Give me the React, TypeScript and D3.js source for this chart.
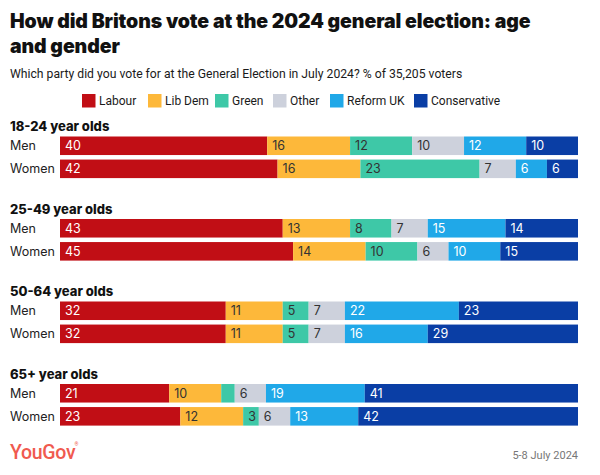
import React from "react";
import * as d3 from "d3";

const parties = ["Labour", "Lib Dem", "Green", "Other", "Reform UK", "Conservative"];
const partyColors = ["#c10e15", "#fdb83a", "#3ec8a7", "#cdd1dc", "#20a8e8", "#0a3ea5"];
const labelDark = [false, true, true, true, false, false];
const ageGroups = ["18-24 year olds", "25-49 year olds", "50-64 year olds", "65+ year olds"];
const genders = ["Men", "Women"];

// rows in order: 18-24 Men, 18-24 Women, 25-49 Men, ..., 65+ Women
const labour = [40, 42, 43, 45, 32, 32, 21, 23];
const libDem = [16, 16, 13, 14, 11, 11, 10, 12];
const green = [12, 23, 8, 10, 5, 5, 2.6, 3];
const other = [10, 7, 7, 6, 7, 7, 6, 6];
const reform = [12, 6, 15, 10, 22, 16, 19, 13];
const conservative = [10, 6, 14, 15, 23, 29, 41, 42];

const title1 = "How did Britons vote at the 2024 general election: age";
const title2 = "and gender";
const subtitle = "Which party did you vote for at the General Election in July 2024? % of 35,205 voters";
const dateText = "5-8 July 2024";

const W = 600;
const H = 475;
const FONT = "Inter, 'Noto Sans', sans-serif";
const FONT2 = "Roboto, 'Noto Sans', sans-serif";

export default function App() {
  const series = [labour, libDem, green, other, reform, conservative];
  const rows = labour.map((_, i) => {
    const r: any = { age: ageGroups[Math.floor(i / 2)], gender: genders[i % 2] };
    parties.forEach((p, k) => (r[p] = series[k][i]));
    return r;
  });
  const stacked = d3.stack<any>().keys(parties).offset(d3.stackOffsetExpand)(rows);

  const x = d3.scaleLinear().domain([0, 1]).range([60, 578]);
  const yGroup = d3.scaleBand<string>().domain(ageGroups).range([118, 448]);
  const yInner = d3
    .scaleBand<string>()
    .domain(genders)
    .range([18.5, 60.1])
    .paddingInner(0.196);

  const legendItems = parties.map((p, i) => ({ p, c: partyColors[i] }));
  const legendX = [82, 148, 215, 273, 330, 414];

  return (
    <svg width={W} height={H} style={{ display: "block", position: "absolute", left: 0, top: 0 }} fontFamily={FONT}>
      <rect width={W} height={H} fill="#fff" />
      <text x={10} y={28} fontSize={19.5} fontWeight={900} fill="#111" letterSpacing={-0.1}>
        {title1}
      </text>
      <text x={10} y={52.5} fontSize={19.5} fontWeight={900} fill="#111" letterSpacing={-0.1}>
        {title2}
      </text>
      <text x={10} y={78} fontSize={12.2} fill="#1a1a1a" fontFamily={FONT2}>
        {subtitle}
      </text>

      {legendItems.map((d, i) => (
        <g key={d.p} transform={`translate(${legendX[i]},94)`}>
          <rect width={13.5} height={13.5} fill={d.c} />
          <text x={17} y={10.5} fontSize={12} fill="#1a1a1a" fontFamily={FONT2}>
            {d.p}
          </text>
        </g>
      ))}

      {ageGroups.map((g) => (
        <text key={g} x={10} y={(yGroup(g) as number) + 13} fontSize={13} fontWeight={800} fill="#111">
          {g}
        </text>
      ))}

      {rows.map((r, i) => {
        const y0 = (yGroup(r.age) as number) + (yInner(r.gender) as number);
        return (
          <text key={"rl" + i} x={10} y={y0 + yInner.bandwidth() / 2 + 4.5} fontSize={12.5} fill="#222">
            {r.gender}
          </text>
        );
      })}

      {stacked.map((s, k) => (
        <g key={parties[k]}>
          {s.map((seg, i) => {
            const r = rows[i];
            const y0 = (yGroup(r.age) as number) + (yInner(r.gender) as number);
            const x0 = x(seg[0]);
            const x1 = x(seg[1]);
            const v = r[parties[k]];
            return (
              <g key={i}>
                <rect x={x0} y={y0} width={x1 - x0} height={yInner.bandwidth()} fill={partyColors[k]} />
                {v >= 3 && (
                  <text
                    x={x0 + 5}
                    y={y0 + yInner.bandwidth() / 2 + 4.5}
                    fontSize={12.5}
                    fill={labelDark[k] ? "#333" : "#fff"}
                  >
                    {Math.round(v)}
                  </text>
                )}
              </g>
            );
          })}
        </g>
      ))}

      <text x={10} y={459} fontSize={19.5} fontWeight={500} fill="#f05a4f" letterSpacing={-0.3} fontFamily={FONT2}>
        YouGov
      </text>
      <text x={74.5} y={446} fontSize={5} fill="#f05a4f" fontFamily={FONT2}>®</text>
      <text x={578} y={459} fontSize={11} fill="#777" textAnchor="end" fontFamily={FONT2}>
        {dateText}
      </text>
    </svg>
  );
}
